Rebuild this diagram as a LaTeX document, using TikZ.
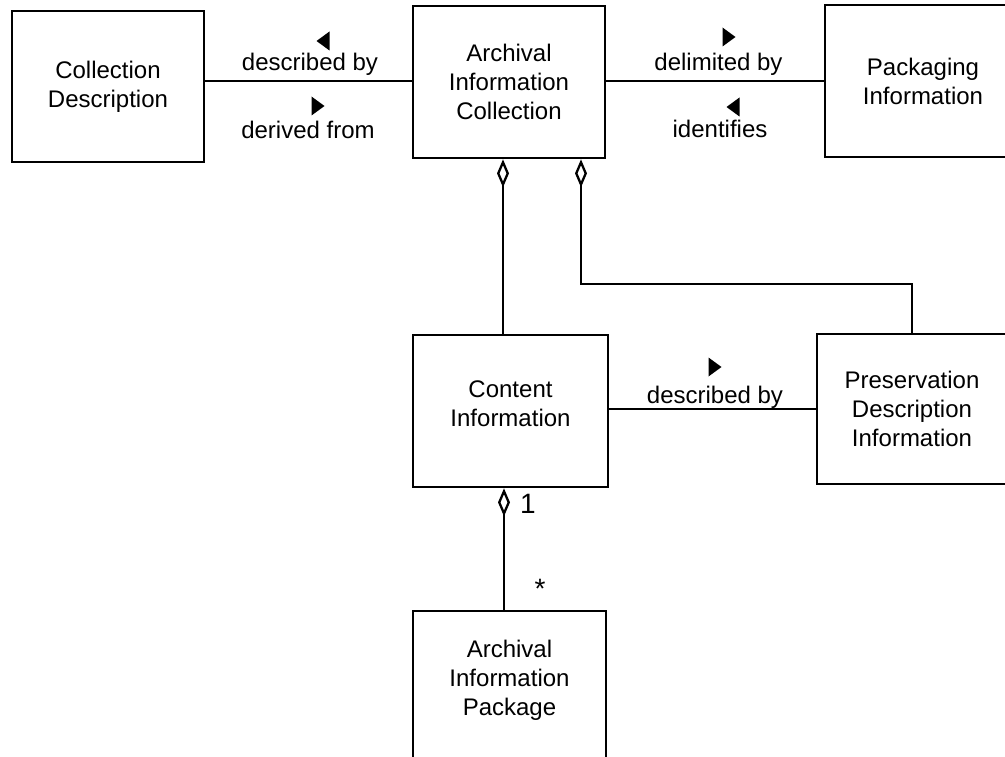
\documentclass[tikz,border=0pt]{standalone}
\usepackage{fontspec}
\setmainfont{Liberation Sans}
\usetikzlibrary{arrows.meta}
\newcommand\tril[2]{\fill ({#1-6.5},{#2}) -- ({#1+6.5},{#2-9.5}) -- ({#1+6.5},{#2+9.5}) -- cycle;}
\newcommand\trir[2]{\fill ({#1+6.5},{#2}) -- ({#1-6.5},{#2-9.5}) -- ({#1-6.5},{#2+9.5}) -- cycle;}
\begin{document}
\begin{tikzpicture}[x=1pt,y=-1pt,
  txt/.style={align=center,inner sep=0pt,font=\fontsize{24}{29}\selectfont},
  box/.style={draw,line width=2.7pt,rectangle,txt},
  conn/.style={line width=2.5pt},
  agg/.style={conn,{Diamond[open,length=28pt,width=12pt,line width=2.3pt]}-},
  lbl/.style={anchor=base,inner sep=0pt,font=\fontsize{24}{29}\selectfont},
  mult/.style={anchor=base,inner sep=0pt,font=\fontsize{28}{32}\selectfont}]
\clip (0,0) rectangle (1005,757);
\fill[white] (0,0) rectangle (1005,757);
\node[box,minimum width=192pt,minimum height=151pt] (cd) at (108,86.5) {Collection\\Description};
\node[box,minimum width=192pt,minimum height=152pt] (aic) at (509,82) {Archival\\Information\\Collection};
\node[box,minimum width=196pt,minimum height=152pt] (pi) at (923,81) {Packaging\\Information};
\node[box,minimum width=195pt,minimum height=152pt,
  label={[txt,yshift=7pt]center:{Content\\Information}}] (ci) at (510.5,411) {};
\node[box,minimum width=190pt,minimum height=150pt] (pdi) at (912,409) {Preservation\\Description\\Information};
\node[box,minimum width=193pt,minimum height=152pt,
  label={[txt,yshift=7pt]center:{Archival\\Information\\Package}}] (aip) at (509.5,687) {};
% connectors
\coordinate (a1) at (503,0);
\coordinate (a2) at (581,0);
\coordinate (a3) at (504,0);
\coordinate (bend) at (581,284);
\draw[conn] (cd.east |- 0,81) -- (aic.west |- 0,81);
\draw[conn] (aic.east |- 0,81) -- (pi.west |- 0,81);
\draw[conn] (ci.east |- 0,409) -- (pdi.west |- 0,409);
\draw[agg] (a1 |- aic.south) -- (a1 |- ci.north);
\draw[agg] (a2 |- aic.south) -- (bend) -| (pdi.north);
\draw[agg] (a3 |- ci.south) -- (a3 |- aip.north);
% labels
\node[lbl] (l1) at (310,71) {described by};
\node[lbl] (l2) at (308,139) {derived from};
\node[lbl] (l3) at (718.5,71) {delimited by};
\node[lbl] (l4) at (720,138) {identifies};
\node[lbl] (l5) at (715,403) {described by};
\node[mult] (m1) at (528,513) {1};
\node[mult] (m2) at (540,598) {*};
\tril{323}{41}
\trir{318}{106}
\trir{729}{37}
\tril{733}{107}
\trir{715}{367}
\end{tikzpicture}
\end{document}
